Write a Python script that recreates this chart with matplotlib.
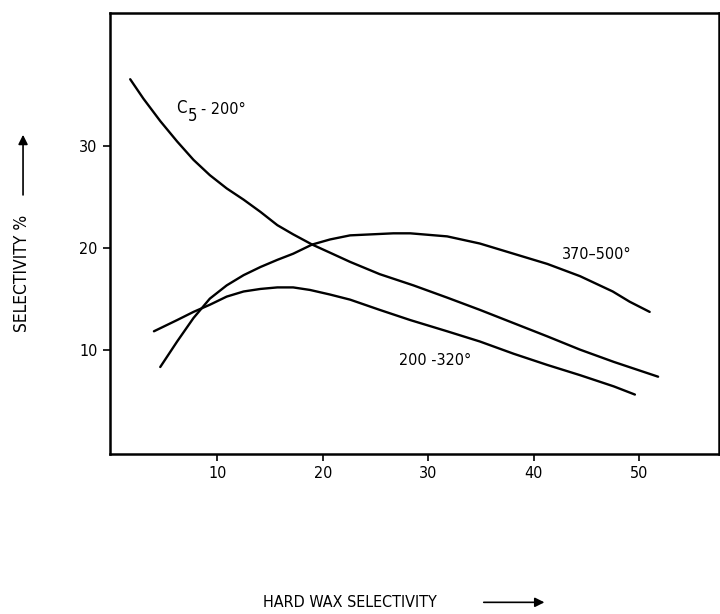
import matplotlib.pyplot as plt

# values
c5_x = [1.75, 3.0, 4.6, 6.2, 7.75, 9.3, 10.9, 12.5, 14.1, 15.7, 17.2, 19.0, 20.7, 22.6,
        25.4, 28.6, 31.8, 34.9, 38.1, 41.3, 44.4, 47.6, 51.8]
c5_y = [36.5, 34.6, 32.4, 30.4, 28.6, 27.1, 25.8, 24.7, 23.5, 22.2, 21.3, 20.3, 19.5, 18.6,
        17.4, 16.3, 15.1, 13.9, 12.6, 11.3, 10.0, 8.8, 7.35]

hi_x = [4.6, 6.2, 7.75, 9.3, 10.9, 12.5, 14.1, 15.7, 17.2, 19.0, 20.7, 22.6,
        26.7, 28.3, 31.8, 34.9, 38.1, 41.3, 44.4, 47.5, 49.1, 51.0]
hi_y = [8.3, 10.8, 13.1, 15.0, 16.3, 17.3, 18.1, 18.8, 19.4, 20.3, 20.8, 21.2,
        21.4, 21.4, 21.1, 20.4, 19.4, 18.4, 17.2, 15.7, 14.7, 13.7]

lo_x = [4.0, 6.2, 7.75, 9.3, 10.9, 12.5, 14.1, 15.7, 17.2, 18.8, 20.7, 22.6,
        25.4, 28.3, 31.8, 34.9, 38.1, 41.3, 44.4, 47.6, 49.6]
lo_y = [11.8, 12.9, 13.7, 14.4, 15.2, 15.7, 15.95, 16.1, 16.1, 15.85, 15.4, 14.9,
        13.9, 12.9, 11.8, 10.8, 9.6, 8.5, 7.5, 6.4, 5.6]

x_ticks = [10, 20, 30, 40, 50]
y_ticks = [10, 20, 30]

plt.rcParams['font.family'] = ['DejaVu Sans']
plt.rcParams['font.stretch'] = 'condensed'

fig = plt.figure(figsize=(7.2, 6.14), dpi=100)
ax = fig.add_axes([0.153, 0.261, 0.846, 0.718])

for xs, ys in [(c5_x, c5_y), (hi_x, hi_y), (lo_x, lo_y)]:
    ax.plot(xs, ys, color='black', lw=1.7, solid_capstyle='round', solid_joinstyle='round')

ax.set_xlim(-0.15, 57.6)
ax.set_ylim(-0.2, 43.0)
ax.set_xticks(x_ticks)
ax.set_yticks(y_ticks)
ax.tick_params(direction='out', length=5, width=1.2, labelsize=11.5, pad=4)
for s in ax.spines.values():
    s.set_linewidth(1.8)

# curve labels
ax.text(6.1, 33.7, 'C', fontsize=12, va='center')
ax.text(7.2, 32.9, '5', fontsize=12, va='center')
ax.text(8.5, 33.5, '- 200°', fontsize=11.5, va='center')
ax.text(42.7, 19.3, '370–500°', fontsize=11.5, va='center')
ax.text(27.2, 8.9, '200 -320°', fontsize=11.5, va='center')

# axis captions with arrows
fig.text(0.031, 0.555, 'SELECTIVITY %', rotation=90, fontsize=12.5,
         ha='center', va='center')
ax.annotate('', xy=(0.032, 0.785), xytext=(0.032, 0.678), xycoords='figure fraction',
            textcoords='figure fraction', annotation_clip=False,
            arrowprops=dict(arrowstyle='-|>', color='black', lw=1.2, mutation_scale=14))
fig.text(0.486, 0.019, 'HARD WAX SELECTIVITY', fontsize=11.5, ha='center', va='center')
ax.annotate('', xy=(0.76, 0.019), xytext=(0.668, 0.019), xycoords='figure fraction',
            textcoords='figure fraction', annotation_clip=False,
            arrowprops=dict(arrowstyle='-|>', color='black', lw=1.2, mutation_scale=14))

fig.savefig('out.png', dpi=100)
